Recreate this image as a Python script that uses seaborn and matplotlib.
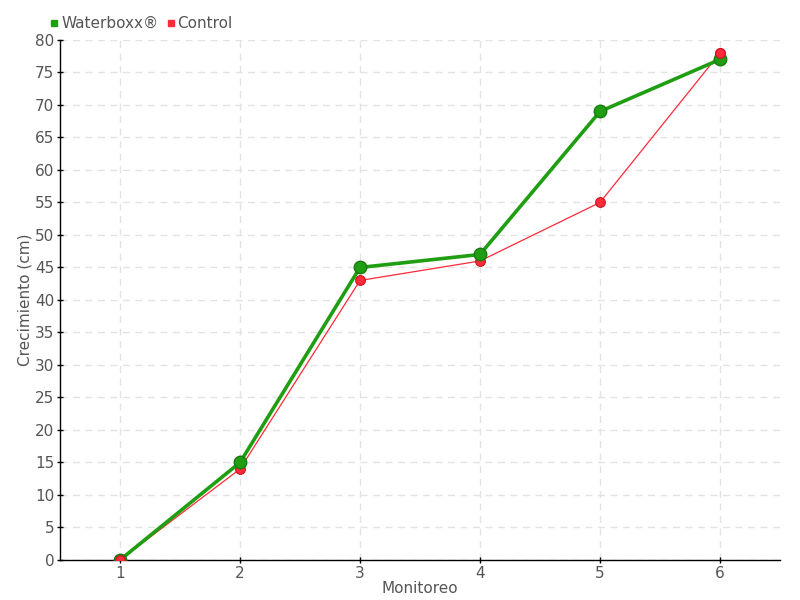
import matplotlib
matplotlib.use("Agg")
from matplotlib import pyplot as plt
from matplotlib.lines import Line2D
import pandas as pd
import seaborn as sns

monitoreo = [1, 2, 3, 4, 5, 6]
waterboxx = [0, 15, 45, 47, 69, 77]
control = [0, 14, 43, 46, 55, 78]

sns.set_style("whitegrid")
plt.rcParams['font.family'] = ['DejaVu Sans']

df = pd.DataFrame({
    "Monitoreo": monitoreo * 2,
    "Crecimiento": waterboxx + control,
    "Serie": ["Waterboxx®"] * 6 + ["Control"] * 6,
})

green = "#1f9e12"
red = "#ff2a3a"
grey = "#555555"

fig = plt.figure(figsize=(8, 6), dpi=100)
ax = fig.add_axes([0.075, 0.0667, 0.9, 0.8667])

# Control drawn underneath the thicker green line
sns.lineplot(data=df[df.Serie == "Control"], x="Monitoreo", y="Crecimiento",
             color=red, linewidth=0.9, marker="o", markersize=7,
             markeredgecolor="#cc1020", markeredgewidth=0.8, ax=ax, legend=False, zorder=3)
sns.lineplot(data=df[df.Serie == "Waterboxx®"], x="Monitoreo", y="Crecimiento",
             color=green, linewidth=2.6, marker="o", markersize=9,
             markeredgecolor="#187a10", markeredgewidth=1, ax=ax, legend=False, zorder=4)
# red markers visible on top at first and last point
ax.plot([monitoreo[0], monitoreo[-1]], [control[0], control[-1]], "o", color=red,
        markersize=7, markeredgecolor="#cc1020", markeredgewidth=0.8, zorder=5)

ax.set_xlim(0.5, 6.5)
ax.set_ylim(0, 80)
ax.set_xticks(monitoreo)
ax.set_yticks(range(0, 81, 5))
ax.grid(True, color="#e3e3e3", linestyle=(0, (5, 4)), linewidth=1)
for s in ["top", "right"]:
    ax.spines[s].set_visible(False)
for s in ["left", "bottom"]:
    ax.spines[s].set_color("black")
    ax.spines[s].set_linewidth(1)
ax.tick_params(axis="both", colors="black", labelcolor=grey, labelsize=11,
               length=4, width=1, direction="inout", left=True, bottom=True, pad=2)
ax.set_xlabel("Monitoreo", color=grey, fontsize=11, labelpad=0)
ax.set_ylabel("Crecimiento (cm)", color=grey, fontsize=11, labelpad=2)

handles = [Line2D([], [], marker="s", linestyle="", color=green, markersize=5),
           Line2D([], [], marker="s", linestyle="", color=red, markersize=5)]
leg = ax.legend(handles, ["Waterboxx®", "Control"], loc="lower left",
                bbox_to_anchor=(-0.025, 1.005), ncol=2, frameon=False,
                handletextpad=0.05, columnspacing=0.4, handlelength=0.8,
                borderaxespad=0, fontsize=11)
for t in leg.get_texts():
    t.set_color(grey)

fig.savefig("out.png", dpi=100)
